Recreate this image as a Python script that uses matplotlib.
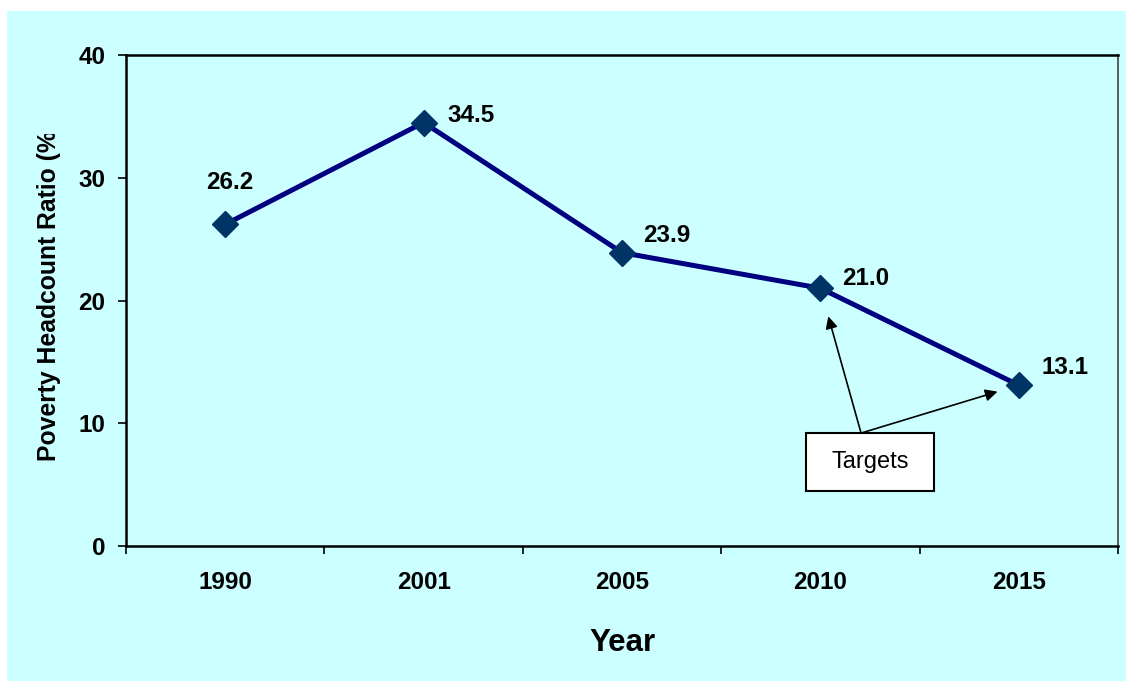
import matplotlib
matplotlib.use("Agg")
import matplotlib.pyplot as plt
from matplotlib.patches import Rectangle
from matplotlib.transforms import Bbox

# data
years = ["1990", "2001", "2005", "2010", "2015"]
ratio = [26.2, 34.5, 23.9, 21.0, 13.1]
yticks = [0, 10, 20, 30, 40]

plt.rcParams['font.family'] = ['Liberation Sans', 'DejaVu Sans']

bg = "#CCFFFF"
fig = plt.figure(figsize=(11.26, 6.81), dpi=100, facecolor="white")
fig.patches.append(Rectangle((7 / 1126, 0), 1, 1 - 11 / 681, transform=fig.transFigure,
                             facecolor=bg, edgecolor="none", zorder=-1))
ax = fig.add_axes([126 / 1126, 1 - 546 / 681, (1118 - 126) / 1126, (546 - 55) / 681])
ax.set_facecolor(bg)

x = list(range(len(years)))
ax.plot(x, ratio, color="#000080", lw=3.6, marker="D", ms=13,
        markerfacecolor="#003366", markeredgecolor="#003366", zorder=3)

# value labels (offsets in points)
offsets = [(3, 22), (17, 5), (15, 12), (16, 7), (16, 13)]
for i, (xi, v) in enumerate(zip(x, ratio)):
    dx, dy = offsets[i]
    if i == 0:
        ax.annotate(f"{v:.1f}", (xi, v), xytext=(dx, dy), textcoords="offset points",
                    ha="center", va="bottom", fontsize=17.5, fontweight="bold")
    else:
        ax.annotate(f"{v:.1f}", (xi, v), xytext=(dx, dy), textcoords="offset points",
                    ha="left", va="center", fontsize=17.5, fontweight="bold")

ax.set_xlim(-0.5, len(years) - 0.5)
ax.set_ylim(0, 40)
ax.set_yticks(yticks)
ax.set_yticklabels([str(t) for t in yticks], fontsize=17.5, fontweight="bold")
ax.set_xticks(x)
ax.set_xticklabels(years, fontsize=17.5, fontweight="bold")
ax.set_xticks([i - 0.5 for i in range(len(years) + 1)], minor=True)
ax.tick_params(axis="x", which="major", length=0, pad=18)
ax.tick_params(axis="x", which="minor", length=6, width=1.2, direction="out")
ax.tick_params(axis="y", length=6, width=1.2, direction="out", pad=9)
for s in ["left", "bottom", "top"]:
    ax.spines[s].set_linewidth(1.8)
ax.spines["right"].set_linewidth(1.2)
ax.spines["right"].set_color("#404040")

ax.set_xlabel("Year", fontsize=22.5, fontweight="bold", labelpad=24.5)

# y label, top end cut off as in the original
yl = fig.text(49 / 1126, 1 - 461 / 681, "Poverty Headcount Ratio (%)", rotation=90,
              ha="center", va="bottom", fontsize=17.8, fontweight="bold")
yl.set_clip_box(Bbox.from_extents(0, 0, 1126, 681 - 134))
yl.set_clip_on(True)

# targets callout
ax.annotate("", xy=(3, 21.0), xytext=(3.205, 9.2),
            arrowprops=dict(arrowstyle="-|>", color="black", lw=1.2, mutation_scale=18,
                            shrinkA=0, shrinkB=21))
ax.annotate("", xy=(4, 13.1), xytext=(3.205, 9.2),
            arrowprops=dict(arrowstyle="-|>", color="black", lw=1.2, mutation_scale=18,
                            shrinkA=0, shrinkB=16))
ax.add_patch(Rectangle((3.25 - 0.3225, 6.84 - 2.36), 0.645, 4.72, facecolor="white",
                       edgecolor="black", lw=1.5, zorder=5))
ax.text(3.25, 6.84, "Targets", ha="center", va="center", fontsize=17, zorder=6)

fig.savefig("out.png", dpi=100, facecolor="white")
